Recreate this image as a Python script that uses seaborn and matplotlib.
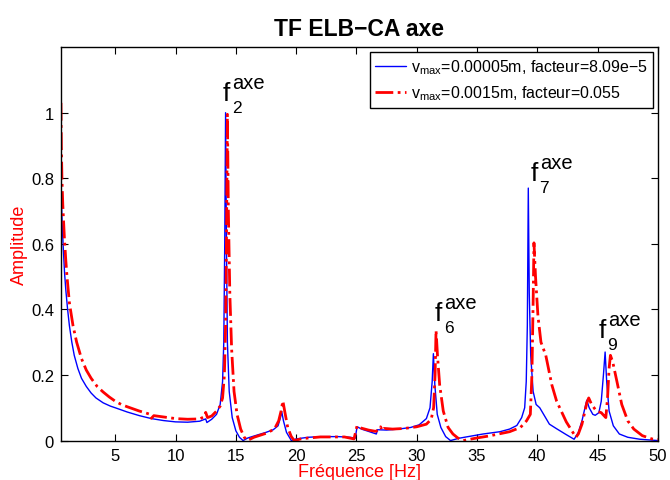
import matplotlib
matplotlib.use("Agg")
import matplotlib.pyplot as plt
import seaborn as sns
import pandas as pd

# Blue curve: v_max = 0.00005 m
blue_freq = [0.5, 0.55, 0.6, 0.7, 0.8, 0.9, 1.05, 1.2, 1.4, 1.6, 1.9, 2.2, 2.6, 3.0, 3.4,
             4.0, 4.6, 5.0, 6.0, 7.0, 8.0, 9.0, 10.0, 11.0, 12.0, 12.5, 12.6, 13.0, 13.4,
             13.7, 13.9, 14.0, 14.08, 14.15, 14.22, 14.3, 14.45, 14.7, 15.0, 15.3, 15.6,
             16.0, 16.7, 17.5, 18.1, 18.5, 18.7, 18.8, 18.95, 19.2, 19.6, 20.0, 21.0, 22.0,
             23.5, 24.5, 24.9, 25.05, 25.5, 26.0, 26.65, 26.75, 27.5, 28.5, 29.5, 30.2,
             30.8, 31.1, 31.28, 31.38, 31.5, 31.7, 32.0, 32.4, 32.8, 33.5, 34.1, 35.5, 36.9,
             37.7, 38.3, 38.7, 38.95, 39.08, 39.17, 39.25, 39.33, 39.45, 39.65, 39.9, 40.2,
             41.0, 41.6, 42.4, 43.05, 43.4, 43.7, 43.95, 44.1, 44.3, 44.6, 44.8, 45.1, 45.3,
             45.48, 45.62, 45.75, 45.95, 46.3, 46.8, 47.5, 48.5, 50.0]
blue_amp = [0.80, 0.72, 0.66, 0.58, 0.51, 0.46, 0.40, 0.35, 0.30, 0.26, 0.22, 0.19, 0.165,
            0.145, 0.13, 0.115, 0.105, 0.10, 0.087, 0.076, 0.067, 0.061, 0.057, 0.056,
            0.059, 0.066, 0.055, 0.065, 0.08, 0.11, 0.18, 0.3, 0.6, 1.0, 0.6, 0.3, 0.15,
            0.07, 0.03, 0.01, 0.0, 0.008, 0.016, 0.025, 0.033, 0.045, 0.07, 0.089, 0.06,
            0.025, 0.0, 0.005, 0.01, 0.012, 0.012, 0.01, 0.007, 0.042, 0.034, 0.028, 0.02,
            0.033, 0.032, 0.035, 0.04, 0.048, 0.067, 0.1, 0.18, 0.265, 0.17, 0.08, 0.04,
            0.012, 0.0, 0.007, 0.011, 0.02, 0.027, 0.035, 0.046, 0.07, 0.1, 0.18, 0.35,
            0.77, 0.45, 0.26, 0.15, 0.11, 0.1, 0.05, 0.036, 0.018, 0.004, 0.025, 0.06, 0.1,
            0.123, 0.1, 0.08, 0.077, 0.085, 0.12, 0.2, 0.27, 0.18, 0.09, 0.045, 0.02, 0.01,
            0.004, 0.0]

# Red curve: v_max = 0.0015 m
red_freq = [0.5, 0.53, 0.58, 0.65, 0.78, 0.9, 1.0, 1.2, 1.5, 1.8, 2.2, 2.6, 3.0, 3.5, 4.0,
            4.5, 5.0, 5.5, 6.0, 7.0, 7.9, 8.0, 8.2, 9.0, 10.0, 11.0, 12.0, 12.35, 12.5,
            12.65, 13.0, 13.4, 13.7, 13.9, 14.05, 14.15, 14.22, 14.3, 14.38, 14.5, 14.65,
            14.85, 15.1, 15.4, 15.7, 15.95, 16.5, 17.5, 18.2, 18.55, 18.75, 18.9, 19.05,
            19.3, 19.6, 19.85, 20.5, 22.0, 24.0, 24.8, 25.05, 25.4, 26.0, 26.6, 26.9, 27.0,
            27.15, 27.3, 28.0, 29.0, 30.0, 30.8, 31.2, 31.4, 31.52, 31.6, 31.72, 31.9,
            32.2, 32.6, 33.0, 33.4, 33.85, 35.0, 36.0, 37.7, 38.6, 39.1, 39.42, 39.55,
            39.65, 39.72, 39.85, 40.05, 40.3, 40.7, 41.2, 41.6, 42.4, 43.2, 43.4, 43.7,
            43.95, 44.1, 44.26, 44.5, 44.9, 45.3, 45.55, 45.68, 45.82, 45.95, 46.06, 46.25,
            46.6, 47.0, 47.5, 48.0, 48.7, 49.5, 50.0]
red_amp = [1.03, 0.9, 0.8, 0.72, 0.62, 0.55, 0.5, 0.42, 0.35, 0.30, 0.25, 0.215, 0.19,
           0.165, 0.148, 0.133, 0.12, 0.11, 0.103, 0.09, 0.08, 0.068, 0.076, 0.072, 0.067,
           0.065, 0.066, 0.072, 0.086, 0.07, 0.075, 0.09, 0.105, 0.13, 0.2, 0.35, 0.6,
           0.995, 0.7, 0.45, 0.28, 0.15, 0.08, 0.035, 0.01, 0.0, 0.01, 0.022, 0.035, 0.06,
           0.09, 0.121, 0.09, 0.04, 0.012, 0.0, 0.006, 0.011, 0.011, 0.005, 0.045, 0.038,
           0.032, 0.028, 0.035, 0.042, 0.03, 0.037, 0.035, 0.037, 0.042, 0.05, 0.065, 0.1,
           0.2, 0.336, 0.26, 0.17, 0.09, 0.04, 0.02, 0.008, 0.0, 0.008, 0.014, 0.027, 0.04,
           0.06, 0.08, 0.2, 0.42, 0.603, 0.5, 0.38, 0.3, 0.26, 0.17, 0.12, 0.057, 0.01,
           0.02, 0.05, 0.09, 0.115, 0.13, 0.11, 0.09, 0.085, 0.075, 0.07, 0.13, 0.22, 0.26,
           0.24, 0.18, 0.11, 0.06, 0.035, 0.015, 0.005, 0.003]

blue_label = r"$\mathrm{v_{max}}$=0.00005m, facteur=8.09e−5"
red_label = r"$\mathrm{v_{max}}$=0.0015m, facteur=0.055"

# Peak annotations (f with subscript index and superscript "axe")
peak_index = ["2", "6", "7", "9"]
peak_x = [13.9, 31.48, 39.42, 45.05]
peak_y = [1.04, 0.368, 0.795, 0.316]

x_ticks = [5, 10, 15, 20, 25, 30, 35, 40, 45, 50]
y_ticks = [0, 0.2, 0.4, 0.6, 0.8, 1]
y_tick_labels = ["0", "0.2", "0.4", "0.6", "0.8", "1"]


def main():
    sns.set_style("ticks")
    plt.rcParams["font.family"] = ["Liberation Sans", "DejaVu Sans"]
    plt.rcParams["mathtext.fontset"] = "custom"
    plt.rcParams["mathtext.rm"] = "Liberation Sans"
    plt.rcParams["mathtext.it"] = "Liberation Sans:italic"
    plt.rcParams["mathtext.bf"] = "Liberation Sans:bold"
    plt.rcParams["text.color"] = "black"
    plt.rcParams["axes.labelcolor"] = "black"

    df_blue = pd.DataFrame({"freq": blue_freq, "amp": blue_amp})
    df_red = pd.DataFrame({"freq": red_freq, "amp": red_amp})

    fig = plt.figure(figsize=(6.7, 4.81), dpi=100)
    ax = fig.add_axes([0.091, 0.082, 0.891, 0.818])

    sns.lineplot(data=df_blue, x="freq", y="amp", ax=ax, color="#0000ff",
                 linewidth=1.0, label=blue_label, sort=False)
    sns.lineplot(data=df_red, x="freq", y="amp", ax=ax, color="#ff0000",
                 linewidth=2.0, linestyle="-.", label=red_label, sort=False)

    for idx, px, py in zip(peak_index, peak_x, peak_y):
        ax.text(px, py, "f", fontsize=19, ha="left", va="baseline")
        ax.annotate("axe", (px, py), xytext=(7.0, 8.6), textcoords="offset points",
                    fontsize=14.5, ha="left", va="baseline")
        ax.annotate(idx, (px, py), xytext=(6.6, -8.8), textcoords="offset points",
                    fontsize=12.5, ha="left", va="baseline")

    ax.set_xlim(0.5, 50)
    ax.set_ylim(0, 1.2)
    ax.set_xticks(x_ticks)
    ax.set_yticks(y_ticks)
    ax.set_yticklabels(y_tick_labels)
    ax.tick_params(direction="in", top=True, right=True, length=5, width=0.8,
                   labelsize=12, colors="black", pad=5)
    for side in ax.spines.values():
        side.set_visible(True)
        side.set_color("black")
        side.set_linewidth(1.0)

    ax.set_title("TF ELB−CA axe", fontsize=16.5, fontweight="bold", pad=9, color="black")
    ax.set_xlabel("Fréquence [Hz]", fontsize=13, color="red", labelpad=0)
    ax.set_ylabel("Amplitude", fontsize=13, color="red", labelpad=2)

    leg = ax.legend(loc="upper right", fontsize=11.5, frameon=True, fancybox=False,
                    edgecolor="black", borderaxespad=0.3, handlelength=1.9,
                    borderpad=0.35, labelspacing=0.45, handletextpad=0.3)
    leg.get_frame().set_linewidth(1.0)
    leg.get_frame().set_alpha(1.0)

    fig.savefig("out.png", dpi=100)
    plt.close(fig)


if __name__ == "__main__":
    main()
